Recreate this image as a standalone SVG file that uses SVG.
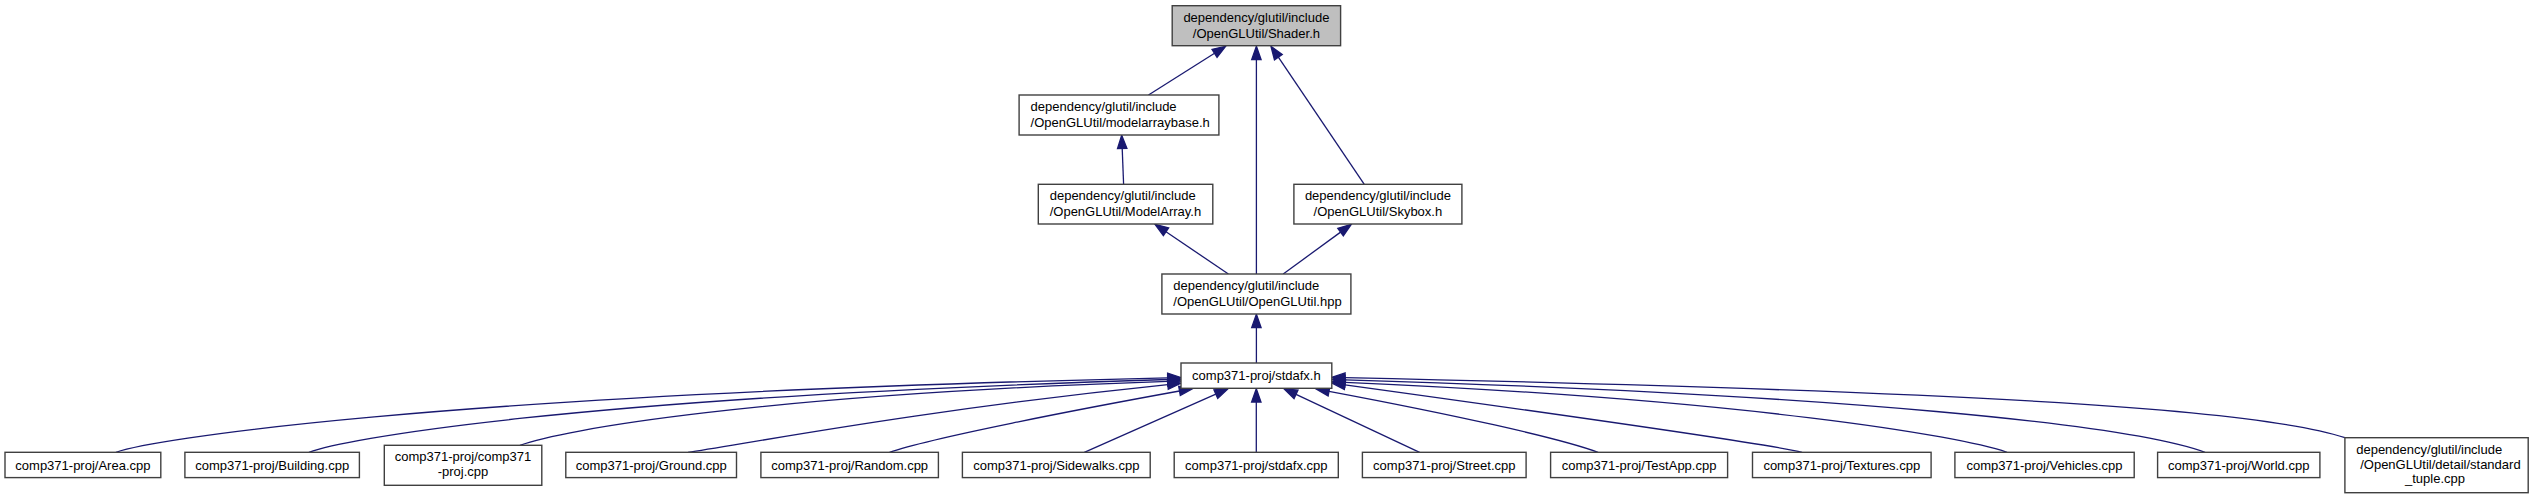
<svg xmlns="http://www.w3.org/2000/svg" width="2533" height="499" viewBox="0 0 2533 499">
<defs>
<style>
.node rect{fill:#ffffff;stroke:#404040;stroke-width:1.4}
.node.root rect{fill:#bfbfbf}
.node text{font-family:"Liberation Sans",Arial,Helvetica,sans-serif;font-size:13px;fill:#000000}
.c{text-anchor:middle}
.s{text-anchor:start}
.edges path{fill:none;stroke:#191970;stroke-width:1.3}
.edges polygon{fill:#191970;stroke:#191970;stroke-width:1.3}
</style>
</defs>
<rect x="0" y="0" width="2533" height="499" fill="#ffffff"/>
<g class="edges" id="edges">
<path d="M1148.5,95 L1214.55,53.3"/><polygon points="1225.8,46.2 1217.06,57.27 1212.04,49.33"/>
<path d="M1256.4,274 L1256.4,59.5"/><polygon points="1256.4,46.2 1261.1,59.5 1251.7,59.5"/>
<path d="M1364.3,184.3 L1278.35,57.22"/><polygon points="1270.9,46.2 1282.24,54.59 1274.46,59.85"/>
<path d="M1123.6,184.3 L1122.21,148.49"/><polygon points="1121.7,135.2 1126.91,148.31 1117.51,148.67"/>
<path d="M1228.4,274 L1166.01,231.76"/><polygon points="1155,224.3 1168.65,227.87 1163.37,235.65"/>
<path d="M1283.2,274 L1340.56,232.14"/><polygon points="1351.3,224.3 1343.33,235.94 1337.79,228.34"/>
<path d="M1256.4,363 L1256.4,327.5"/><polygon points="1256.4,314.3 1261.1,327.5 1251.7,327.5"/>
<path d="M116,452.3 C150,440 420,395 1167.7,377.8"/><polygon points="1181,377.5 1167.6,373.1 1167.8,382.5"/>
<path d="M309,452.3 C340,440 560,398 1167.7,379.5"/><polygon points="1181,379.2 1167.6,374.8 1167.8,384.2"/>
<path d="M520,445.3 C560,430 760,395 1167.7,381.4"/><polygon points="1181,381 1167.6,376.6 1167.8,386"/>
<path d="M688,452.3 C740,445 920,410 1167.8,384.6"/><polygon points="1181,383.2 1168.26,389.27 1167.31,379.93"/>
<path d="M889.5,452.3 C930,438 1080,409 1179.5,391"/><polygon points="1192.6,388.6 1180.3,395.6 1178.7,386.4"/>
<path d="M1084.3,452.3 L1215.83,394.16"/><polygon points="1228,388.8 1217.72,398.46 1213.93,389.86"/>
<path d="M1256.3,452.3 L1256.3,402"/><polygon points="1256.3,388.8 1261,402 1251.6,402"/>
<path d="M1419.6,452.3 L1296.04,394.44"/><polygon points="1284,388.8 1298.03,390.18 1294.05,398.7"/>
<path d="M1598,452.3 C1560,438 1450,414 1329,391.3"/><polygon points="1315.9,388.85 1329.87,386.68 1328.13,395.92"/>
<path d="M1802,452.3 C1770,444 1600,420 1345,384.8"/><polygon points="1331.8,383 1345.64,380.14 1344.36,389.46"/>
<path d="M2007,452.3 C1960,436 1750,400 1345,382.3"/><polygon points="1331.7,381.7 1345.2,377.6 1344.8,387"/>
<path d="M2205,452.3 C2130,425 1850,395 1345,379.8"/><polygon points="1331.7,379.4 1345.14,375.1 1344.86,384.5"/>
<path d="M2344.9,437.7 C2260,410 2000,392 1345,377.6"/><polygon points="1331.7,377.3 1345.1,372.9 1344.9,382.3"/>
</g>
<g class="node root" id="node_shader"><rect x="1172.2" y="5.7" width="168.4" height="40"/><text class="c" x="1256.4" y="21.5">dependency/glutil/include</text><text class="c" x="1256.4" y="37.5">/OpenGLUtil/Shader.h</text></g>
<g class="node" id="node_modelarraybase"><rect x="1019.1" y="95" width="199.8" height="40"/><text class="s" x="1030.6" y="110.5">dependency/glutil/include</text><text class="s" x="1030.6" y="126.5">/OpenGLUtil/modelarraybase.h</text></g>
<g class="node" id="node_modelarray"><rect x="1038.3" y="184.3" width="174.5" height="39.7"/><text class="s" x="1049.7" y="200">dependency/glutil/include</text><text class="s" x="1049.7" y="216">/OpenGLUtil/ModelArray.h</text></g>
<g class="node" id="node_skybox"><rect x="1293.9" y="184.3" width="168" height="39.7"/><text class="c" x="1377.9" y="200">dependency/glutil/include</text><text class="c" x="1377.9" y="216">/OpenGLUtil/Skybox.h</text></g>
<g class="node" id="node_openglutil"><rect x="1161.9" y="274" width="189" height="40"/><text class="s" x="1173.3" y="289.5">dependency/glutil/include</text><text class="s" x="1173.3" y="305.5">/OpenGLUtil/OpenGLUtil.hpp</text></g>
<g class="node" id="node_stdafx_h"><rect x="1181" y="363" width="150.8" height="25.3"/><text class="c" x="1256.4" y="380">comp371-proj/stdafx.h</text></g>
<g class="node" id="node_area"><rect x="5" y="452.3" width="155.8" height="25.3"/><text class="c" x="82.9" y="469.7">comp371-proj/Area.cpp</text></g>
<g class="node" id="node_building"><rect x="184.9" y="452.3" width="174.5" height="25.3"/><text class="c" x="272.2" y="469.7">comp371-proj/Building.cpp</text></g>
<g class="node" id="node_comp371"><rect x="384.3" y="445.3" width="157.5" height="40"/><text class="c" x="463" y="460.8">comp371-proj/comp371</text><text class="c" x="463" y="475.8">-proj.cpp</text></g>
<g class="node" id="node_ground"><rect x="565.8" y="452.3" width="170.7" height="25.3"/><text class="c" x="651.2" y="469.7">comp371-proj/Ground.cpp</text></g>
<g class="node" id="node_random"><rect x="760.9" y="452.3" width="177.5" height="25.3"/><text class="c" x="849.7" y="469.7">comp371-proj/Random.cpp</text></g>
<g class="node" id="node_sidewalks"><rect x="962.4" y="452.3" width="187.8" height="25.3"/><text class="c" x="1056.3" y="469.7">comp371-proj/Sidewalks.cpp</text></g>
<g class="node" id="node_stdafx_cpp"><rect x="1174.2" y="452.3" width="164.1" height="25.3"/><text class="c" x="1256.3" y="469.7">comp371-proj/stdafx.cpp</text></g>
<g class="node" id="node_street"><rect x="1362.4" y="452.3" width="163.7" height="25.3"/><text class="c" x="1444.3" y="469.7">comp371-proj/Street.cpp</text></g>
<g class="node" id="node_testapp"><rect x="1550.6" y="452.3" width="177" height="25.3"/><text class="c" x="1639.1" y="469.7">comp371-proj/TestApp.cpp</text></g>
<g class="node" id="node_textures"><rect x="1752.5" y="452.3" width="178.6" height="25.3"/><text class="c" x="1841.8" y="469.7">comp371-proj/Textures.cpp</text></g>
<g class="node" id="node_vehicles"><rect x="1954.9" y="452.3" width="179.3" height="25.3"/><text class="c" x="2044.5" y="469.7">comp371-proj/Vehicles.cpp</text></g>
<g class="node" id="node_world"><rect x="2157.6" y="452.3" width="162.3" height="25.3"/><text class="c" x="2238.7" y="469.7">comp371-proj/World.cpp</text></g>
<g class="node" id="node_tuple"><rect x="2344.9" y="437.7" width="183.3" height="55"/><text class="s" x="2356.2" y="453.5">dependency/glutil/include</text><text class="s" x="2360.2" y="468.5">/OpenGLUtil/detail/standard</text><text class="c" x="2435" y="483">_tuple.cpp</text></g>
</svg>
